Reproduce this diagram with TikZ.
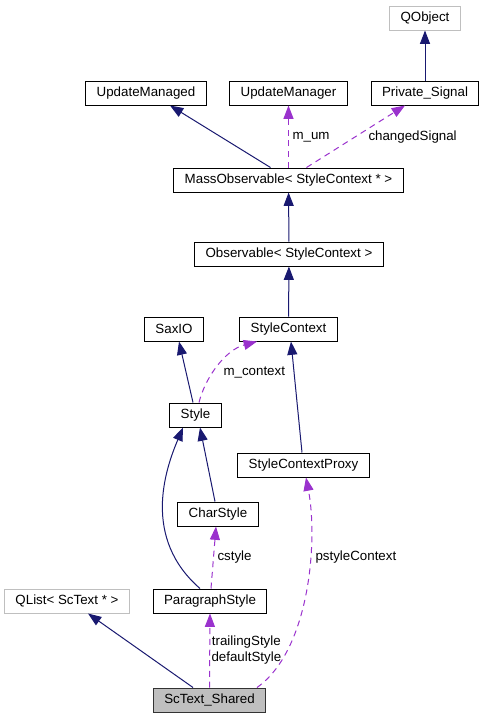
\documentclass[tikz,border=0pt]{standalone}
\usepackage{fontspec}
\setmainfont{Liberation Sans}
\usepackage{xcolor}
\usepackage{tikz}
\usetikzlibrary{calc}
\usetikzlibrary{arrows.meta}

\definecolor{edgeblue}{HTML}{191970}
\definecolor{edgepurple}{HTML}{9A32CD}
\definecolor{boxgray}{HTML}{BFBFBF}

\begin{document}
\begin{tikzpicture}[x=0.75pt,y=-0.75pt,font=\fontsize{10}{12}\selectfont]
% 1 unit = 1px of the page
    \def\BOXH{18pt} % height of boxes
    \def\TIPW{7.5pt}
    \def\TIPL{10pt}

    \tikzset{
      cls/.style={draw=black,line width=0.75pt,rectangle,
        minimum height=\BOXH,inner xsep=8.25pt,inner ysep=0pt},
      extcls/.style={cls,draw=boxgray},
      maincls/.style={cls,fill=boxgray,draw=black!80},
      inh/.style={-{Triangle[width=\TIPW,length=\TIPL]},
        edgeblue,line width=0.75pt},
      uses/.style={-{Triangle[width=\TIPW,length=\TIPL]},
        edgepurple,line width=0.75pt,dash pattern=on 4.5pt off 3.5pt},
      lbl/.style={anchor=west,inner sep=0pt,text=black},
    }

    \useasboundingbox (0,0) rectangle (484,719);

    % TOP ROW
    \node[extcls] (qobj) at (425,18) {QObject};
    \node[cls] (managed) at (146,93) {UpdateManaged};
    \node[cls] (manager) at (288.5,93) {UpdateManager};
    \node[cls] (pvsig) at (425,93) {Private\_Signal};

    % OBSERVERS
    \node[cls] (mass) at (288.5,180) {MassObservable< StyleContext * >};
    \node[cls] (obs) at (289,254) {Observable< StyleContext >};

    % STYLES
    \node[cls] (saxio) at (174,329) {SaxIO};
    \node[cls] (sctx) at (288.5,329) {StyleContext};
    \node[cls] (style) at (195.5,415) {Style};
    \node[cls] (scproxy) at (303.5,465) {StyleContextProxy};
    \node[cls] (charstyle) at (218,514) {CharStyle};
    \node[extcls] (qlist) at (67,601) {QList< ScText * >};
    \node[cls] (parastyle) at (210,601) {ParagraphStyle};

    % BOTTOM
    \node[maincls] (sctext) at (209.5,700) {ScText\_Shared};

    % INHERITANCE
    \draw[inh] (pvsig) -- (qobj);
    \draw[inh] ($(mass.north)+(-18,0)$) -- ($(managed.south)+(24,0)$);
    \draw[inh] (obs) -- (mass);
    \draw[inh] (sctx) -- (obs);
    \draw[inh] ($(style.north)+(-2.5,0)$) -- ($(saxio.south)+(5,0)$);
    \draw[inh] ($(scproxy.north)+(-1.5,0)$) -- ($(sctx.south)+(2.5,0)$);
    \draw[inh] ($(charstyle.north)+(-3,0)$) -- ($(style.south)+(4.5,0)$);
    \draw[inh] ($(parastyle.north)+(-10,0)$)
        .. controls (142,538) and (165,470) .. ($(style.south)+(-12.5,0)$);
    \draw[inh] ($(sctext.north)+(-16.5,0)$) -- ($(qlist.south)+(21,0)$);

    % USAGE
    \draw[uses] (mass.north) -- (manager.south)
        node[lbl] at (292,137) {m\_um};
    \draw[uses] ($(mass.north)+(18,0)$) -- ($(pvsig.south)+(-20,0)$)
        node[lbl] at (368,137) {changedSignal};
    \draw[uses] ($(style.north)+(3.5,0)$)
        .. controls (205,378) and (225,350) .. ($(sctx.south)+(-31.5,0)$)
        node[lbl] at (223,373) {m\_context};
    \draw[uses] ($(parastyle.north)+(1,0)$) -- ($(charstyle.south)+(-2,0)$)
        node[lbl] at (217,557) {cstyle};
    \draw[uses] (sctext.north) -- (parastyle.south)
        node[lbl,align=center] at (211,650) {trailingStyle\\defaultStyle};
    \draw[uses] ($(sctext.north)+(47.5,0)$)
        .. controls (310,650) and (318,540) .. ($(scproxy.south)+(2.5,0)$)
        node[lbl] at (315,557) {pstyleContext};

\end{tikzpicture}
\end{document}
